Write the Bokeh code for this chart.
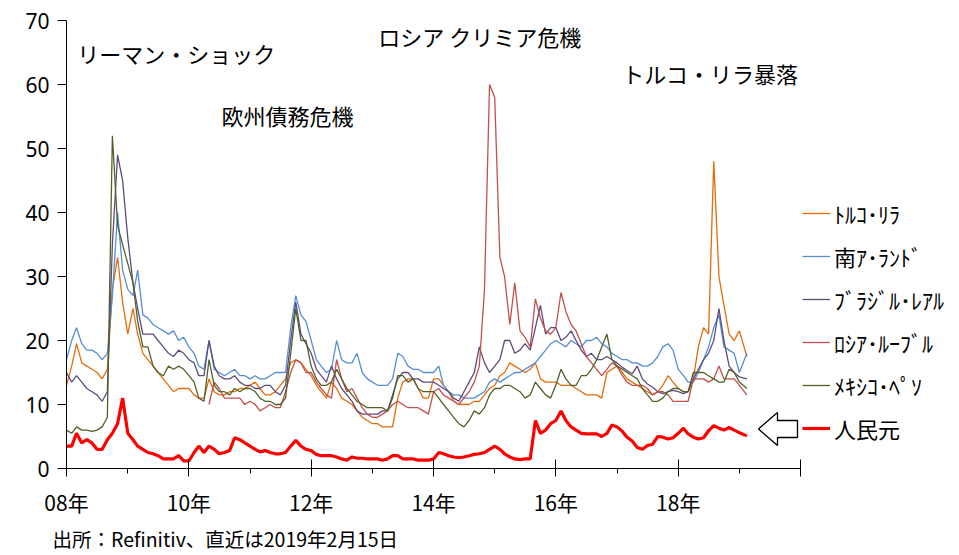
import math
import pandas as pd
from bokeh.plotting import figure
from bokeh.models import (ColumnDataSource, Range1d, FixedTicker, DatetimeTickFormatter,
                          Legend, LegendItem, Label, PolyAnnotation, Title)
from bokeh.embed import file_html
from bokeh.resources import INLINE

nan = float("nan")

# monthly samples, Jan 2008 .. Jan 2019, last point 2019-02-15
dates = list(pd.date_range("2008-01-01", "2019-01-01", freq="MS")) + [pd.Timestamp("2019-02-15")]

try_vol = [13, 16, 19.5, 16.5, 16, 15.5, 15, 14, 15.5, 28, 33, 26,
           21, 25, 21, 18, 17, 16, 15, 14, 13, 12, 12.5, 12.5,
           12.5, 11.5, 11, 11, 14, 12, 11.5, 11.5, 12, 12, 12.5, 12.5,
           13, 13.5, 12.5, 11.5, 11.5, 12, 13, 14, 16.5, 17, 16.5, 15.5,
           14.5, 13, 12, 11, 13.5, 12.5, 11, 10.5, 10, 9, 8, 7.5,
           7, 7, 6.5, 6.5, 6.5, 11, 13.5, 14, 14, 12.5, 11, 11,
           14, 14, 13, 12, 10.5, 10, 10, 10, 10.5, 10.5, 11.5, 12.5,
           13, 14.5, 15, 16.5, 16, 15.5, 15, 15.5, 16.5, 14, 13.5, 13.5,
           13.5, 13, 13, 13, 12.5, 12, 11.5, 11.5, 11.5, 11, 15, 15.5,
           16, 15, 14, 13.5, 13, 12.5, 12, 11.5, 12, 13, 14.5, 13.5,
           12.5, 12, 12, 14, 19, 22, 21, 48, 30, 25.5, 21, 20,
           21.5, 17.5]

zar_vol = [17, 20, 22, 19.5, 18.5, 18.5, 18, 17, 18, 27, 40, 31,
           28, 27, 31, 24, 23.5, 22.5, 22, 21.5, 21, 21.5, 20, 20.5,
           19, 18, 16, 15.5, 20, 15.5, 15, 14.5, 15, 15.5, 14.5, 14.5,
           14, 14.5, 14, 14, 14.5, 15, 15, 15, 22, 27, 24, 23,
           20, 17, 16, 15, 15.5, 20, 17, 16.5, 16.5, 18, 15, 14,
           13.5, 13, 13, 13, 14, 18, 17.5, 16, 15.5, 15.5, 15, 15,
           15, 16, 13, 12, 11.5, 11.5, 11, 11, 11, 11.5, 12, 13.5,
           14, 13.5, 14, 14.5, 15, 15, 15.5, 16, 16.5, 17.5, 18.5, 19.5,
           20, 19.5, 19, 20, 19.5, 19, 20, 20, 20.5, 19.5, 19, 18,
           17.5, 17, 17, 16.5, 16.5, 16, 16, 16.5, 17.5, 19, 19.5, 18.5,
           15.5, 14.5, 13.5, 13.5, 15, 17, 19, 22, 24, 19, 18.5, 18,
           15, 18]

brl_vol = [15, 13.5, 14.5, 13.5, 12.5, 12, 11.5, 10.5, 12, 35, 49, 45,
           36, 29, 25, 21, 21, 21, 20, 19, 18, 17.5, 18.5, 18,
           17, 16.5, 14.5, 14.5, 20, 16, 14.5, 14, 14, 14.5, 13.5, 13,
           13, 12.5, 12.5, 13, 13, 12, 11.5, 13, 20, 26, 21, 19.5,
           18, 15.5, 14.5, 13.5, 16, 14, 12.5, 11.5, 10.5, 9, 8.5, 8.5,
           8.5, 8.5, 9, 9, 11.5, 14, 15, 15, 14, 14, 13.5, 13.5,
           13.5, 13, 12.5, 12, 11, 10.5, 12, 13.5, 15, 19, 16.5, 15,
           16, 17, 20, 20, 18, 18.5, 19.5, 18.5, 22, 25.5, 21, 22,
           22, 20, 20.5, 21.5, 20, 18.5, 17.5, 18, 17, 17, 17.5, 17,
           16.5, 15.8, 15.3, 14.8, 16, 14, 13.2, 12.7, 12, 11.7, 12, 12.2,
           12, 11.7, 12, 14, 15.5, 17, 18, 20, 25, 20, 16, 15,
           14.3, 14]

rub_vol = [nan] * 12 + [nan] * 12 + \
          [nan, nan, nan, nan, 10, 13.5, 12.5, 11, 11, 11, 11, 10,
           10.5, 10, 9, 9.5, 10, 9.5, 9.5, 12, 15, 17, 16.5, 15,
           15, 13.5, 12.5, 11.5, 11, 17, 14, 12, 12.5, 11, 9.5, 8.5,
           8, 8, 8.5, 9, 10, 10.5, 10, 9.5, 9.5, 9.5, 9, 8.5,
           12, 12.5, 11.5, 11, 10.5, 10, 11, 12, 13.5, 16, 28, 60,
           58, 33, 30, 22.5, 29, 21.5, 20.5, 19, 26.5, 23.5, 21.5, 21,
           22, 27.5, 24.5, 22.5, 21.5, 19.5, 17.5, 16.5, 15.5, 14.5, 15.5, 16.5,
           16, 14.5, 13.5, 13, 13, 13, 12.5, 11.5, 12, 12, 11.5, 10.5,
           10.5, 10.5, 10.5, 14, 14, 14, 13.5, 14, 16, 14, 14, 14,
           13, 11.5]

mxn_vol = [6, 5.5, 6.5, 6, 6, 5.8, 6, 6.5, 8, 52, 38, 35,
           32, 29, 23, 19, 19, 16, 15, 14.5, 16, 15.5, 16, 15.5,
           14.5, 13.5, 11, 10.5, 17, 13, 12, 12, 11.5, 12.5, 12, 12.5,
           12.5, 12, 11, 10.5, 10.5, 10, 10, 11, 18, 25, 20, 20,
           16, 14, 13, 13, 13.5, 15.5, 14, 12.5, 11.5, 10.5, 10, 9.5,
           9.5, 9.5, 9.5, 9, 11, 14.5, 14.5, 13.5, 14, 12.5, 12, 12,
           12, 11, 10, 9, 8, 7, 6.5, 7.5, 9, 8.5, 9.5, 11.5,
           12.5, 12.5, 13, 13, 12.5, 12, 11, 11.5, 13.5, 12.5, 11.5, 11,
           13, 15.5, 14, 13, 13, 14.5, 14.5, 15.5, 17, 19, 21, 17,
           16, 15.5, 15, 14.5, 14, 12.5, 11.5, 10.5, 10.5, 11, 12, 12.5,
           12.5, 12, 12, 15, 15, 15, 14.5, 14, 13.5, 13.5, 15.5, 15,
           13.5, 12.5]

cny_vol = [3.5, 3.5, 5.5, 4, 4.5, 4, 3, 3, 4.5, 5.5, 7, 11,
           5.5, 4.5, 3.5, 3, 2.5, 2.3, 2, 1.5, 1.5, 1.5, 2, 1.2,
           1.2, 2.5, 3.5, 2.5, 3.5, 3, 2.3, 2.5, 2.8, 4.8, 4.5, 4,
           3.5, 3, 2.6, 2.8, 2.5, 2.3, 2.3, 2.5, 3.5, 4.4, 3.5, 3,
           2.8, 2.2, 2, 2, 2, 1.8, 1.5, 1.3, 1.8, 1.6, 1.6, 1.5,
           1.5, 1.5, 1.3, 1.5, 2, 2, 1.5, 1.5, 1.5, 1.3, 1.3, 1.3,
           1.5, 2.5, 2.3, 2, 1.8, 1.7, 1.8, 2, 2.2, 2.3, 2.5, 3,
           3.5, 3, 2.3, 1.8, 1.5, 1.4, 1.5, 1.5, 7.5, 5.5, 6, 7,
           7.5, 9, 7.5, 6.5, 6, 5.5, 5.4, 5.4, 5.4, 5, 5.5, 6.8,
           6.5, 5.8, 4.9, 4.3, 3.3, 3, 3.6, 3.8, 5, 4.9, 4.6, 4.8,
           5.5, 6.3, 5.4, 4.9, 4.6, 4.8, 5.9, 6.7, 6.3, 6, 6.4, 6,
           5.6, 5.1]

series_names = ["ﾄﾙｺ･ﾘﾗ", "南ｱ･ﾗﾝﾄﾞ", "ﾌﾞﾗｼﾞﾙ･ﾚｱﾙ", "ﾛｼｱ･ﾙｰﾌﾞﾙ", "ﾒｷｼｺ･ﾍﾟｿ", "人民元"]
series_keys = ["try", "zar", "brl", "rub", "mxn", "cny"]
series_colors = ["#E46C0A", "#558ED5", "#604A7B", "#C0504D", "#4F6228", "#FF0000"]
series_widths = [1.3, 1.3, 1.3, 1.3, 1.3, 3.2]

y_ticks = [0, 10, 20, 30, 40, 50, 60, 70]
major_years = [2008, 2010, 2012, 2014, 2016, 2018, 2020]
minor_years = list(range(2008, 2021))

events = [("リーマン・ショック", "2008-03-05", 65.0),
          ("ロシア クリミア危機", "2013-02-05", 67.6),
          ("欧州債務危機", "2010-07-15", 55.3),
          ("トルコ・リラ暴落", "2017-02-01", 61.8)]
source_note = "出所：Refinitiv、直近は2019年2月15日"

src = ColumnDataSource(dict(date=dates, **{k: v for k, v in zip(series_keys, [try_vol, zar_vol, brl_vol, rub_vol, mxn_vol, cny_vol])}))


def ms(s):
    return float(pd.Timestamp(s).value // 10**6)


# layout in pixels: axes drawn from x=66 (2008) to x=800 (2020), y=468 (0) to y=20 (70);
# the frame is extended to the right / top edge so the legend and notes are not clipped
W, H = 959, 555
left, axis_right, top_axis, bottom_axis = 66, 800, 20, 468
x0, x2020 = ms("2008-01-01"), ms("2020-01-01")
x_end = x0 + (x2020 - x0) * (W - left) / (axis_right - left)
y_end = 70 * (bottom_axis - 0) / (bottom_axis - top_axis)

p = figure(width=W, height=H, x_axis_type="datetime", output_backend="svg",
           toolbar_location=None,
           x_range=Range1d(x0, x_end), y_range=Range1d(0, y_end),
           min_border_left=left, min_border_right=0, min_border_top=0,
           min_border_bottom=H - bottom_axis)
p.outline_line_color = None
p.background_fill_color = "white"
p.border_fill_color = "white"
p.xgrid.grid_line_color = None
p.ygrid.grid_line_color = None

renderers = []
for k, c, w in zip(series_keys, series_colors, series_widths):
    r = p.line("date", k, source=src, line_color=c, line_width=w)
    renderers.append(r)

# y axis
yax = p.yaxis[0]
yax.bounds = (0, 70)
yax.ticker = FixedTicker(ticks=y_ticks)
yax.major_tick_in = 0
yax.major_tick_out = 9
yax.minor_tick_line_color = None
yax.major_label_text_font = "Noto Sans"
yax.major_label_text_font_size = "21px"
yax.major_label_text_color = "black"
yax.major_label_standoff = 8
yax.axis_line_color = "black"
yax.major_tick_line_color = "black"

# x axis
xax = p.xaxis[0]
xax.bounds = (x0, x2020)
xax.ticker = FixedTicker(ticks=[ms(f"{y}-01-01") for y in major_years],
                         minor_ticks=[ms(f"{y}-01-01") for y in minor_years])
fmt = "%y年"
xax.formatter = DatetimeTickFormatter(years=fmt, months=fmt, days=fmt, hours=fmt,
                                      hourmin=fmt, minutes=fmt, minsec=fmt,
                                      seconds=fmt, milliseconds=fmt, microseconds=fmt)
xax.major_label_overrides = {x2020: ""}
xax.major_tick_in = 9
xax.major_tick_out = 8
xax.minor_tick_in = 0
xax.minor_tick_out = 5
xax.minor_tick_line_color = "black"
xax.major_tick_line_color = "black"
xax.axis_line_color = "black"
xax.major_label_text_font = "Noto Sans CJK JP"
xax.major_label_text_font_size = "21px"
xax.major_label_text_color = "black"
xax.major_label_standoff = 10

# legend
items = [LegendItem(label=n, renderers=[r]) for n, r in zip(series_names, renderers)]
legend = Legend(items=items, location=(736, 24), orientation="vertical",
                glyph_width=28, glyph_height=20, label_standoff=4, spacing=11,
                label_height=20, padding=0, margin=0,
                border_line_color=None, background_fill_alpha=0,
                label_text_font="Noto Sans CJK JP", label_text_font_size="22px",
                label_text_color="black")
p.add_layout(legend, "center")

# event labels
for txt, d, yv in events:
    p.add_layout(Label(x=ms(d), y=yv, text=txt, text_font="Noto Sans CJK JP",
                       text_font_size="22px", text_color="black",
                       text_align="left", text_baseline="middle"))

# source note below the axis
p.add_layout(Title(text=source_note, align="left", offset=-14, standoff=5,
                   text_font="Noto Sans CJK JP", text_font_size="19.5px",
                   text_font_style="normal", text_color="black"), "below")

# outlined arrow pointing at the legend entry of 人民元
arrow = PolyAnnotation(xs=[692, 711, 711, 731, 731, 711, 711],
                       ys=[39.5, 56, 48, 48, 31, 31, 23],
                       xs_units="screen", ys_units="screen",
                       fill_color="white", fill_alpha=1.0,
                       line_color="black", line_alpha=1.0, line_width=1.3)
p.add_layout(arrow)

open("out.html", "w").write(file_html(p, INLINE))
